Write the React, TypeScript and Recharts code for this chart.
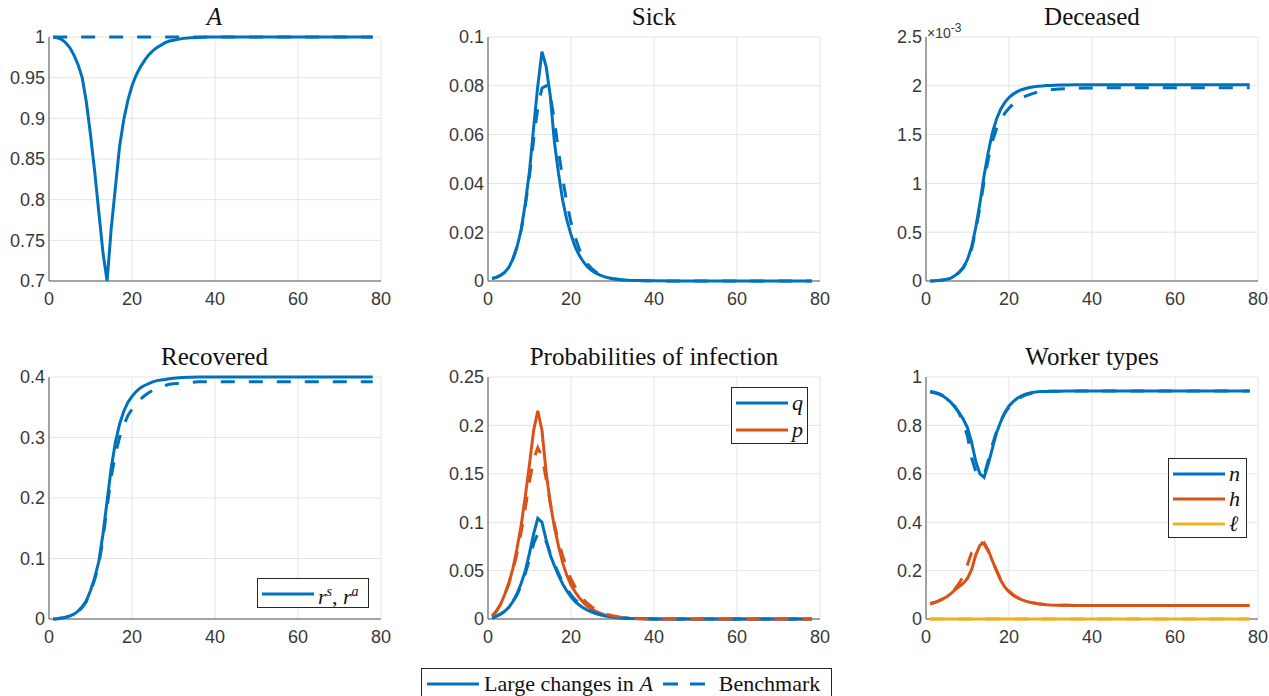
import React from 'react';
import { LineChart, Line, XAxis, YAxis, CartesianGrid } from 'recharts';

const BLUE = '#0072BD';
const ORANGE = '#D95319';
const YELLOW = '#EDB120';
const SERIF = '"Liberation Serif", "DejaVu Serif", serif';
const SANS = '"Liberation Sans", Arial, sans-serif';
const DASH = '14 14';

// weeks 1..30, then a coarser tail
const weeks = [
  1, 2, 3, 4, 5, 6, 7, 8, 9, 10, 11, 12, 13, 14, 15, 16, 17, 18, 19, 20,
  21, 22, 23, 24, 25, 26, 27, 28, 29, 30, 32, 34, 36, 38, 40, 45, 50, 55, 60, 65, 70, 75, 78,
];

const xTicks = [0, 20, 40, 60, 80];
const aTicks = [0.7, 0.75, 0.8, 0.85, 0.9, 0.95, 1];
const sickTicks = [0, 0.02, 0.04, 0.06, 0.08, 0.1];
const deceasedTicks = [0, 0.5, 1, 1.5, 2, 2.5];
const recoveredTicks = [0, 0.1, 0.2, 0.3, 0.4];
const probTicks = [0, 0.05, 0.1, 0.15, 0.2, 0.25];
const workerTicks = [0, 0.2, 0.4, 0.6, 0.8, 1];

// A
const aLarge = [
  1.0, 0.999, 0.997, 0.993, 0.987, 0.978, 0.966, 0.95, 0.92, 0.88, 0.835, 0.785, 0.735, 0.7, 0.765,
  0.815, 0.865, 0.898, 0.922, 0.94, 0.953, 0.963, 0.971, 0.978, 0.983, 0.987, 0.99, 0.993, 0.995, 0.996,
  0.998, 0.999, 0.9995, 1, 1, 1, 1, 1, 1, 1, 1, 1, 1,
];
const aBench = [
  1, 1, 1, 1, 1, 1, 1, 1, 1, 1, 1, 1, 1, 1, 1, 1, 1, 1, 1, 1, 1, 1,
  1, 1, 1, 1, 1, 1, 1, 1, 1, 1, 1, 1, 1, 1, 1, 1, 1, 1, 1, 1, 1,
];

// Sick
const sickLarge = [
  0.001, 0.0015, 0.0023, 0.0035, 0.0055, 0.009, 0.014, 0.021, 0.032, 0.045, 0.063, 0.08, 0.094, 0.088, 0.076,
  0.057, 0.044, 0.033, 0.025, 0.019, 0.014, 0.0105, 0.0078, 0.0058, 0.0043, 0.0032, 0.0024, 0.0018, 0.0013, 0.0009,
  0.0005, 0.0003, 0.0002, 0.0001, 0.0001, 0, 0, 0, 0, 0, 0, 0, 0,
];
const sickBench = [
  0.001, 0.0015, 0.0023, 0.0035, 0.0055, 0.009, 0.014, 0.021, 0.031, 0.043, 0.058, 0.071, 0.079, 0.08, 0.076,
  0.066, 0.053, 0.042, 0.032, 0.024, 0.018, 0.013, 0.0095, 0.007, 0.005, 0.0037, 0.0027, 0.002, 0.0014, 0.001,
  0.0005, 0.0003, 0.0002, 0.0001, 0.0001, 0, 0, 0, 0, 0, 0, 0, 0,
];

// Deceased, in units of 1e-3
const deceasedLarge = [
  0, 0.002, 0.005, 0.01, 0.018, 0.03, 0.055, 0.09, 0.14, 0.22, 0.35, 0.55, 0.8, 1.08, 1.32,
  1.52, 1.66, 1.76, 1.83, 1.88, 1.915, 1.94, 1.96, 1.972, 1.982, 1.99, 1.995, 1.999, 2.002, 2.004,
  2.007, 2.009, 2.01, 2.01, 2.01, 2.01, 2.01, 2.01, 2.01, 2.01, 2.01, 2.01, 2.01,
];
const deceasedBench = [
  0, 0.002, 0.005, 0.01, 0.018, 0.03, 0.053, 0.087, 0.135, 0.21, 0.33, 0.52, 0.76, 1.02, 1.25,
  1.43, 1.56, 1.65, 1.72, 1.77, 1.815, 1.85, 1.875, 1.895, 1.91, 1.925, 1.937, 1.947, 1.955, 1.96,
  1.967, 1.972, 1.975, 1.977, 1.978, 1.98, 1.98, 1.98, 1.98, 1.98, 1.98, 1.98, 1.98,
];

// Recovered
const recoveredLarge = [
  0, 0.0005, 0.0015, 0.003, 0.005, 0.008, 0.013, 0.02, 0.03, 0.047, 0.068, 0.095, 0.14, 0.195, 0.25,
  0.292, 0.322, 0.343, 0.358, 0.368, 0.376, 0.382, 0.386, 0.389, 0.392, 0.394, 0.395, 0.396, 0.397, 0.398,
  0.399, 0.3995, 0.4, 0.4, 0.4, 0.4, 0.4, 0.4, 0.4, 0.4, 0.4, 0.4, 0.4,
];
const recoveredBench = [
  0, 0.0005, 0.0015, 0.003, 0.005, 0.008, 0.012, 0.019, 0.029, 0.045, 0.065, 0.09, 0.132, 0.185, 0.235,
  0.272, 0.3, 0.32, 0.336, 0.347, 0.356, 0.363, 0.369, 0.374, 0.378, 0.381, 0.384, 0.386, 0.388, 0.389,
  0.39, 0.391, 0.392, 0.392, 0.392, 0.392, 0.392, 0.392, 0.392, 0.392, 0.392, 0.392, 0.392,
];

// Probabilities of infection
const qLarge = [
  0.001, 0.003, 0.005, 0.008, 0.012, 0.018, 0.026, 0.037, 0.05, 0.068, 0.088, 0.104, 0.1, 0.082, 0.066,
  0.055, 0.045, 0.036, 0.029, 0.023, 0.018, 0.0145, 0.0115, 0.009, 0.007, 0.0055, 0.0043, 0.0033, 0.0025, 0.0019,
  0.0011, 0.0006, 0.0003, 0.0002, 0.0001, 0, 0, 0, 0, 0, 0, 0, 0,
];
const qBench = [
  0.001, 0.003, 0.005, 0.008, 0.012, 0.018, 0.025, 0.035, 0.047, 0.062, 0.078, 0.088, 0.089, 0.08, 0.068,
  0.057, 0.047, 0.038, 0.031, 0.025, 0.02, 0.016, 0.0125, 0.0098, 0.0077, 0.006, 0.0047, 0.0036, 0.0028, 0.0021,
  0.0012, 0.0007, 0.0004, 0.0002, 0.0001, 0, 0, 0, 0, 0, 0, 0, 0,
];
const pLarge = [
  0.003, 0.008, 0.015, 0.025, 0.037, 0.052, 0.073, 0.097, 0.127, 0.16, 0.195, 0.215, 0.195, 0.152, 0.12,
  0.095, 0.075, 0.058, 0.045, 0.035, 0.028, 0.022, 0.017, 0.013, 0.0105, 0.008, 0.006, 0.0045, 0.0034, 0.0025,
  0.0014, 0.0008, 0.0004, 0.0002, 0.0001, 0, 0, 0, 0, 0, 0, 0, 0,
];
const pBench = [
  0.003, 0.008, 0.015, 0.025, 0.036, 0.05, 0.068, 0.09, 0.115, 0.142, 0.165, 0.177, 0.168, 0.145, 0.12,
  0.098, 0.08, 0.065, 0.052, 0.041, 0.033, 0.026, 0.02, 0.016, 0.0125, 0.0098, 0.0076, 0.0058, 0.0044, 0.0033,
  0.0019, 0.0011, 0.0006, 0.0003, 0.0002, 0, 0, 0, 0, 0, 0, 0, 0,
];

// Worker types
const nLarge = [
  0.938, 0.935, 0.93, 0.922, 0.91, 0.895, 0.875, 0.852, 0.825, 0.79, 0.73, 0.65, 0.6, 0.585, 0.64,
  0.705, 0.77, 0.815, 0.852, 0.88, 0.898, 0.912, 0.922, 0.929, 0.934, 0.937, 0.939, 0.94, 0.9405, 0.941,
  0.9415, 0.942, 0.942, 0.942, 0.942, 0.942, 0.942, 0.942, 0.942, 0.942, 0.942, 0.942, 0.942,
];
const nBench = [
  0.94, 0.937, 0.932, 0.924, 0.913, 0.898, 0.878, 0.85, 0.81, 0.755, 0.665, 0.61, 0.59, 0.595, 0.655,
  0.72, 0.775, 0.82, 0.852, 0.876, 0.895, 0.908, 0.918, 0.926, 0.931, 0.935, 0.938, 0.94, 0.9405, 0.941,
  0.9415, 0.942, 0.942, 0.942, 0.942, 0.942, 0.942, 0.942, 0.942, 0.942, 0.942, 0.942, 0.942,
];
const hLarge = [
  0.063, 0.068, 0.074, 0.082, 0.092, 0.105, 0.12, 0.134, 0.148, 0.168, 0.205, 0.265, 0.305, 0.315, 0.285,
  0.24, 0.2, 0.16, 0.132, 0.112, 0.098, 0.088, 0.08, 0.074, 0.069, 0.066, 0.063, 0.061, 0.059, 0.058,
  0.057, 0.0565, 0.056, 0.056, 0.056, 0.056, 0.056, 0.056, 0.056, 0.056, 0.056, 0.056, 0.056,
];
const hBench = [
  0.063, 0.068, 0.075, 0.083, 0.094, 0.108, 0.125, 0.148, 0.178, 0.225, 0.275, 0.305, 0.318, 0.31, 0.28,
  0.24, 0.2, 0.163, 0.135, 0.115, 0.1, 0.089, 0.081, 0.075, 0.07, 0.066, 0.063, 0.061, 0.06, 0.058,
  0.057, 0.0565, 0.056, 0.056, 0.056, 0.056, 0.056, 0.056, 0.056, 0.056, 0.056, 0.056, 0.056,
];
const lLarge = [
  0, 0, 0, 0, 0, 0, 0, 0, 0, 0, 0, 0, 0, 0, 0, 0, 0, 0, 0, 0, 0, 0,
  0, 0, 0, 0, 0, 0, 0, 0, 0, 0, 0, 0, 0, 0, 0, 0, 0, 0, 0, 0, 0,
];
const lBench = [
  0, 0, 0, 0, 0, 0, 0, 0, 0, 0, 0, 0, 0, 0, 0, 0, 0, 0, 0, 0, 0, 0,
  0, 0, 0, 0, 0, 0, 0, 0, 0, 0, 0, 0, 0, 0, 0, 0, 0, 0, 0, 0, 0,
];

function buildRows(cols: Record<string, number[]>) {
  return weeks.map((w, i) => {
    const row: Record<string, number> = { week: w };
    Object.keys(cols).forEach(k => { row[k] = cols[k][i]; });
    return row;
  });
}

type Series = { key: string; color: string; dashed?: boolean };

const PLOT_W = 332;
const Y_W = 48;
const TOP_PAD = 14;

function Panel({ left, top, height, title, domain, ticks, data, series }: {
  left: number; top: number; height: number; title: React.ReactNode;
  domain: [number, number]; ticks: number[]; data: Record<string, number>[]; series: Series[];
}) {
  return (
    <>
      <div style={{
        position: 'absolute', left, top: top - 35, width: PLOT_W, textAlign: 'center',
        fontFamily: SERIF, fontSize: 25, lineHeight: '30px', color: '#111',
      }}>{title}</div>
      <div style={{ position: 'absolute', left: left - Y_W, top: top - TOP_PAD }}>
        <LineChart width={Y_W + PLOT_W + 12} height={height + TOP_PAD + 34} data={data}
          margin={{ top: TOP_PAD, right: 12, bottom: 0, left: 0 }}>
          <CartesianGrid stroke="#e4e4e4" strokeWidth={1} />
          <XAxis dataKey="week" type="number" domain={[0, 80]} ticks={xTicks} height={34}
            tickLine={false} tickSize={0} tickMargin={11}
            axisLine={{ stroke: '#555', strokeWidth: 1 }}
            tick={{ fill: '#383838', fontSize: 18, fontFamily: SANS }} />
          <YAxis type="number" domain={domain} ticks={ticks} width={Y_W} interval={0}
            tickLine={false} tickSize={0} tickMargin={4}
            axisLine={{ stroke: '#555', strokeWidth: 1 }}
            tick={{ fill: '#383838', fontSize: 18, fontFamily: SANS }} />
          {series.map(s => (
            <Line key={s.key} dataKey={s.key} type="linear" stroke={s.color} strokeWidth={3}
              strokeDasharray={s.dashed ? DASH : undefined} dot={false} activeDot={false}
              isAnimationActive={false} zIndex={1000} />
          ))}
        </LineChart>
      </div>
    </>
  );
}

type Item = { color: string; label: React.ReactNode };

function LegendBox({ left, top, width, height, first, gap, items }: {
  left: number; top: number; width: number; height: number; first: number; gap: number; items: Item[];
}) {
  return (
    <div style={{
      position: 'absolute', left, top, width, height, border: '1px solid #262626',
      background: '#fff', boxSizing: 'border-box',
    }}>
      {items.map((it, i) => (
        <div key={i} style={{
          position: 'absolute', left: 4, top: first + i * gap - 14, height: 28,
          display: 'flex', alignItems: 'center', whiteSpace: 'nowrap',
        }}>
          <svg width={52} height={6} style={{ display: 'block' }}>
            <line x1={0} y1={3} x2={52} y2={3} stroke={it.color} strokeWidth={3} />
          </svg>
          <span style={{ marginLeft: 4, fontFamily: SERIF, fontSize: 22, fontStyle: 'italic', lineHeight: '28px', color: '#111' }}>
            {it.label}
          </span>
        </div>
      ))}
    </div>
  );
}

export default function App() {
  const aRows = buildRows({ large: aLarge, bench: aBench });
  const sickRows = buildRows({ large: sickLarge, bench: sickBench });
  const deceasedRows = buildRows({ large: deceasedLarge, bench: deceasedBench });
  const recoveredRows = buildRows({ large: recoveredLarge, bench: recoveredBench });
  const probRows = buildRows({ qL: qLarge, pL: pLarge, qB: qBench, pB: pBench });
  const workerRows = buildRows({ nL: nLarge, hL: hLarge, lL: lLarge, nB: nBench, hB: hBench, lB: lBench });

  const pair: Series[] = [
    { key: 'large', color: BLUE },
    { key: 'bench', color: BLUE, dashed: true },
  ];

  return (
    <div style={{ position: 'absolute', left: 0, top: 0, width: 1269, height: 696, background: '#fff', overflow: 'hidden' }}>
      <Panel left={48.5} top={37} height={244} title={<i>A</i>} domain={[0.7, 1]} ticks={aTicks}
        data={aRows} series={pair} />
      <Panel left={488} top={37} height={244} title="Sick" domain={[0, 0.1]} ticks={sickTicks}
        data={sickRows} series={pair} />
      <Panel left={926} top={37} height={244} title="Deceased" domain={[0, 2.5]} ticks={deceasedTicks}
        data={deceasedRows} series={pair} />
      <div style={{ position: 'absolute', left: 927, top: 20, fontFamily: SANS, fontSize: 14, color: '#383838', lineHeight: '16px' }}>
        ×10<sup style={{ fontSize: 12 }}>-3</sup>
      </div>

      <Panel left={48.5} top={377} height={242} title="Recovered" domain={[0, 0.4]} ticks={recoveredTicks}
        data={recoveredRows} series={pair} />
      <Panel left={488} top={377} height={242} title="Probabilities of infection" domain={[0, 0.25]} ticks={probTicks}
        data={probRows} series={[
          { key: 'pL', color: ORANGE },
          { key: 'qL', color: BLUE },
          { key: 'qB', color: BLUE, dashed: true },
          { key: 'pB', color: ORANGE, dashed: true },
        ]} />
      <Panel left={926} top={377} height={242} title="Worker types" domain={[0, 1]} ticks={workerTicks}
        data={workerRows} series={[
          { key: 'nL', color: BLUE },
          { key: 'hL', color: ORANGE },
          { key: 'nB', color: BLUE, dashed: true },
          { key: 'hB', color: ORANGE, dashed: true },
          { key: 'lL', color: YELLOW },
          { key: 'lB', color: YELLOW, dashed: true },
        ]} />

      <LegendBox left={257} top={578} width={112} height={30} first={15} gap={0}
        items={[{ color: BLUE, label: <span><i>r</i><sup style={{ fontSize: 14 }}>s</sup><span style={{ fontStyle: 'normal' }}>, </span><i>r</i><sup style={{ fontSize: 14 }}>a</sup></span> }]} />
      <LegendBox left={731} top={387} width={77} height={57} first={15} gap={27}
        items={[{ color: BLUE, label: 'q' }, { color: ORANGE, label: 'p' }]} />
      <LegendBox left={1168} top={458} width={79} height={80} first={14.5} gap={25.3}
        items={[{ color: BLUE, label: 'n' }, { color: ORANGE, label: 'h' }, { color: YELLOW, label: 'ℓ' }]} />

      <div style={{
        position: 'absolute', left: 421, top: 668, width: 411, height: 34, border: '1px solid #262626',
        boxSizing: 'border-box', background: '#fff', display: 'flex', alignItems: 'center',
        fontFamily: SERIF, fontSize: 22, color: '#111', whiteSpace: 'nowrap', paddingBottom: 2,
      }}>
        <svg width={52} height={6} style={{ display: 'block', marginLeft: 5 }}>
          <line x1={0} y1={3} x2={52} y2={3} stroke={BLUE} strokeWidth={3} />
        </svg>
        <span style={{ marginLeft: 5 }}>Large changes in <i>A</i></span>
        <svg width={42} height={6} style={{ display: 'block', marginLeft: 10 }}>
          <line x1={0} y1={3} x2={42} y2={3} stroke={BLUE} strokeWidth={3} strokeDasharray="15 12" />
        </svg>
        <span style={{ marginLeft: 14 }}>Benchmark</span>
      </div>
    </div>
  );
}
